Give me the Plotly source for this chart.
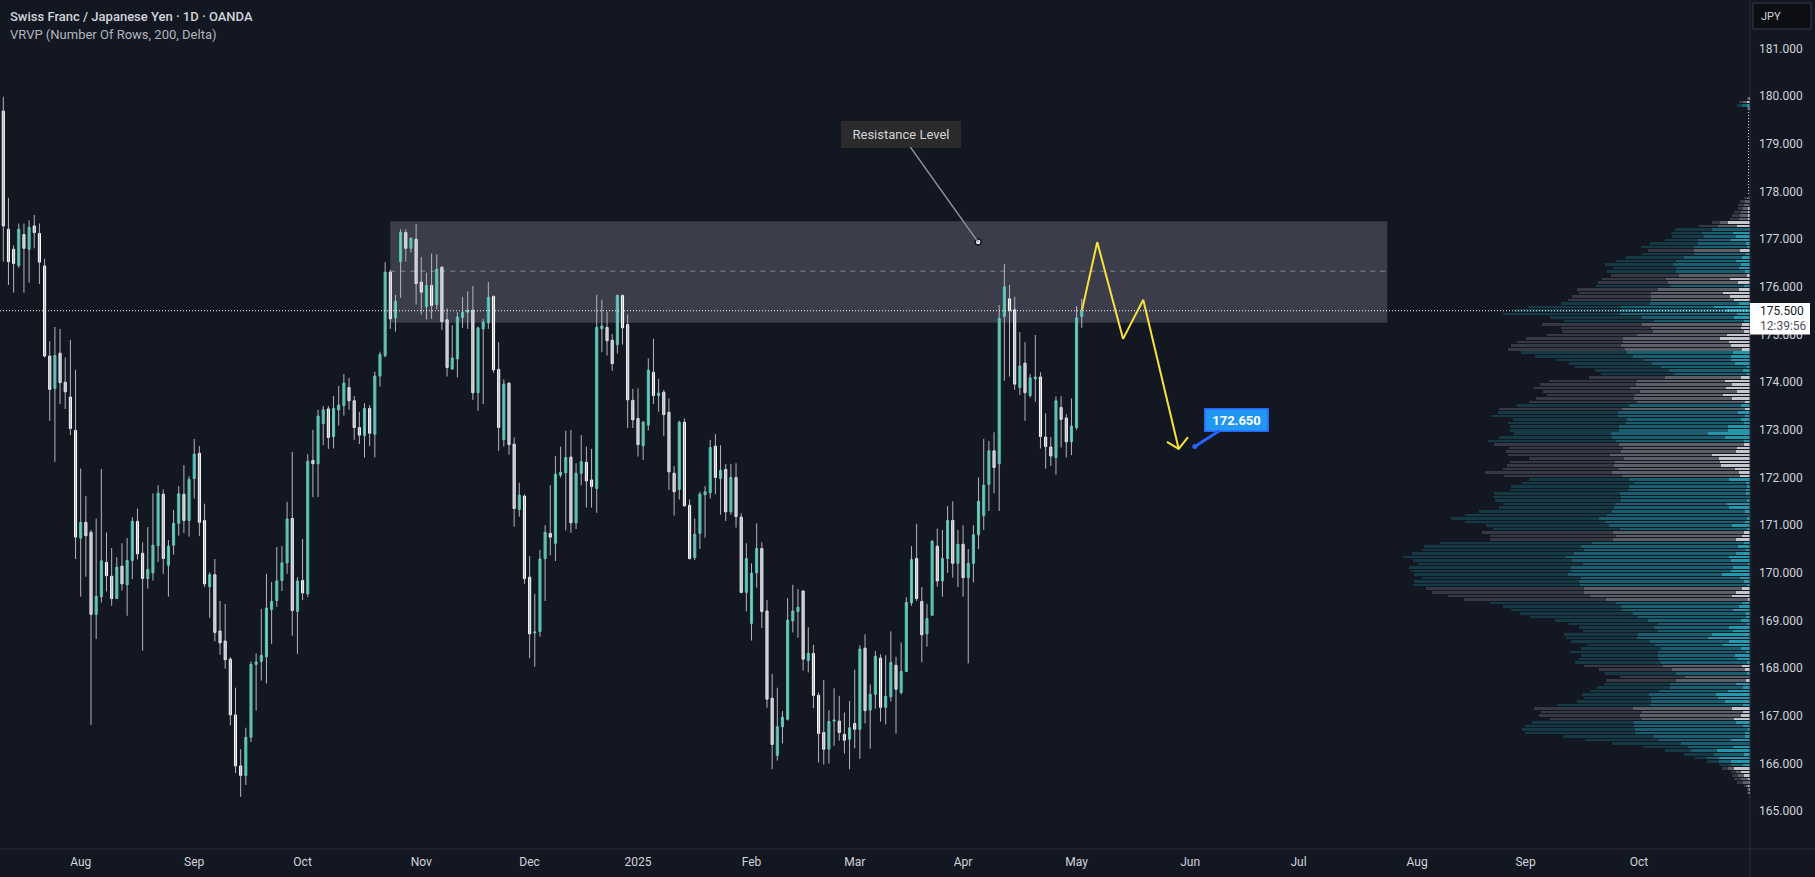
import plotly.graph_objects as go
import pandas as pd

BG = "#131722"
FONT = "Roboto"
TXT = "#d1d4dc"

# ---------------- daily candles (CHFJPY, OANDA) ----------------
opens = [179.69,177.21,176.79,176.45,177.10,176.79,177.28,177.12,176.44,174.55,
         173.87,174.61,174.00,173.69,172.99,170.73,171.06,170.85,169.13,169.50,
         170.22,169.93,169.46,170.14,169.75,170.26,171.08,170.41,169.88,170.00,
         170.57,171.65,170.16,170.58,171.04,171.65,171.10,171.98,172.51,171.10,
         169.71,169.96,168.78,168.57,168.19,167.02,165.95,165.75,166.55,168.08,
         168.14,168.24,169.23,169.42,169.84,170.21,171.14,169.19,169.84,169.56,
         172.36,172.29,173.13,173.44,172.86,173.42,173.51,173.89,173.61,173.05,
         172.88,173.45,172.91,174.13,174.56,176.31,175.35,176.53,177.14,176.81,
         177.00,176.10,175.59,176.03,175.63,176.41,175.31,174.28,174.49,175.36,
         175.47,175.51,173.78,175.12,175.25,175.80,174.27,172.80,173.98,172.70,
         171.33,171.61,169.91,168.74,168.77,170.30,170.83,170.62,172.05,172.10,
         172.43,171.05,172.09,172.32,171.95,171.77,175.12,175.15,174.88,174.79,
         175.82,175.21,173.62,173.24,172.67,173.10,174.21,173.72,173.79,173.37,
         172.09,171.75,173.16,171.42,170.32,170.83,171.64,171.68,172.66,171.98,
         172.17,171.28,172.00,171.17,169.59,168.94,170.00,170.51,169.20,167.37,
         166.17,166.77,166.93,168.99,169.19,169.62,168.16,168.31,167.43,166.65,
         166.30,166.89,166.89,166.61,166.51,166.84,166.72,168.42,167.12,167.45,
         168.21,167.18,167.40,168.06,167.49,167.93,169.37,170.30,169.40,168.72,
         169.11,170.56,169.83,170.30,171.10,170.20,170.60,169.90,170.20,170.80,
         171.20,171.86,172.56,172.29,175.38,175.75,175.52,173.89,174.40,173.72,
         174.07,174.11,172.85,172.64,172.42,173.47,173.25,172.75,173.05,175.38]
highs = [179.99,177.87,176.87,177.33,177.33,177.40,177.51,177.33,176.59,174.86,
         175.16,175.12,174.52,174.89,174.26,172.19,171.61,170.90,171.14,172.18,
         170.85,170.52,170.33,170.62,170.73,171.17,171.35,170.64,170.96,171.67,
         171.84,171.75,170.69,171.32,171.82,172.26,172.03,172.81,172.66,171.45,
         170.01,170.29,169.41,169.35,168.23,167.59,166.30,166.75,168.14,168.31,
         169.24,169.98,169.81,170.54,170.56,171.49,172.54,169.91,170.71,172.49,
         173.00,173.42,173.50,173.50,173.71,173.92,174.17,174.09,173.71,173.38,
         173.56,173.52,174.22,174.64,176.52,176.36,175.83,177.21,177.21,177.04,
         177.32,176.63,176.30,176.70,176.68,176.44,175.55,175.20,175.47,175.79,
         175.91,176.02,175.17,175.33,176.10,175.82,174.84,174.06,174.00,172.84,
         171.89,171.65,170.35,169.56,170.48,171.00,171.84,172.45,172.65,172.98,
         173.00,172.30,172.89,172.65,172.60,175.83,175.73,175.48,175.01,175.84,
         175.84,175.42,173.86,173.87,173.19,174.50,174.91,174.07,173.84,173.66,
         172.24,173.19,173.24,171.54,171.14,171.70,171.82,172.79,172.91,172.68,
         172.28,172.28,172.30,171.25,170.62,170.20,171.04,170.64,169.43,167.88,
         167.59,167.10,169.47,169.75,169.66,169.62,168.86,168.49,167.49,167.75,
         167.12,167.58,167.42,167.07,167.31,167.97,168.48,168.71,167.66,168.36,
         168.29,168.27,168.77,168.24,168.54,169.49,170.56,171.03,169.70,169.35,
         170.69,170.93,170.90,171.40,171.50,170.90,171.00,170.50,171.00,172.00,
         172.81,172.77,172.95,175.62,176.48,176.04,175.79,175.05,174.84,174.17,
         174.99,174.21,173.35,172.85,173.70,173.71,173.33,173.66,175.60,175.75]
lows = [176.53,176.04,175.88,176.40,175.88,176.09,176.81,176.06,174.52,173.19,
        172.33,173.54,173.44,172.89,170.29,169.50,169.92,166.81,168.61,169.38,
        169.61,169.31,169.45,169.63,169.10,169.87,170.28,168.37,169.67,169.84,
        170.23,169.98,169.50,170.38,170.78,170.84,170.76,171.56,170.77,169.70,
        169.06,168.56,168.28,167.99,166.80,165.80,165.30,165.55,166.45,167.11,
        167.74,167.68,168.51,169.29,169.62,169.98,168.68,168.30,169.43,169.49,
        171.59,171.59,172.68,172.60,172.61,173.09,173.30,173.42,172.79,172.70,
        172.42,172.66,172.42,173.91,174.52,175.12,175.06,175.77,176.53,176.72,
        175.63,175.42,175.32,175.33,175.53,175.10,174.12,174.26,174.10,175.14,
        175.12,173.63,173.40,173.54,175.12,174.20,172.56,172.65,172.48,170.97,
        171.18,169.77,168.21,168.03,168.66,169.41,170.37,170.25,172.00,170.89,
        170.84,170.92,171.84,171.37,171.37,171.26,174.63,174.56,174.24,174.60,
        174.79,173.04,173.04,172.44,172.37,172.99,173.54,173.38,172.87,171.74,
        171.20,171.54,171.38,170.28,170.27,170.50,170.74,171.56,171.65,171.22,
        171.09,171.22,170.95,169.57,169.19,168.58,169.69,168.84,167.17,165.88,
        166.06,166.42,166.90,168.75,168.64,167.95,167.91,167.16,166.02,165.98,
        166.00,166.37,166.48,166.21,165.88,166.32,166.10,166.84,166.31,167.15,
        166.88,166.82,167.30,166.63,167.45,167.93,169.31,169.41,168.12,168.45,
        169.10,169.71,169.50,170.00,169.90,169.70,169.50,168.10,169.80,170.50,
        170.90,171.30,171.67,171.30,174.03,174.12,173.84,173.73,173.19,173.68,
        173.59,172.61,172.19,172.24,172.06,172.63,172.42,172.47,173.00,175.14]
closes = [177.28,176.53,176.49,177.21,176.81,177.25,177.14,176.52,174.55,173.85,
          174.56,173.99,173.80,173.03,170.75,171.06,170.78,169.13,169.51,170.25,
          169.94,169.46,170.12,169.77,170.26,171.08,170.40,169.88,170.07,170.58,
          171.67,170.30,170.56,171.04,171.66,171.10,171.96,172.49,171.06,169.77,
          169.96,168.75,168.53,168.18,167.02,165.95,165.75,166.55,168.08,168.13,
          168.27,169.26,169.40,169.83,170.21,171.13,169.21,169.83,169.58,172.34,
          172.29,173.29,173.42,172.84,173.45,173.52,173.98,173.61,173.05,172.89,
          173.45,172.93,174.13,174.58,176.31,175.33,175.70,177.14,176.81,177.02,
          176.07,175.89,176.03,175.61,176.37,175.27,174.31,174.51,175.37,175.47,
          175.51,173.78,175.14,175.26,175.78,174.26,173.05,173.96,172.69,171.35,
          171.63,169.88,168.72,168.76,170.29,170.85,170.75,172.07,172.11,172.42,
          171.05,172.09,172.33,171.93,171.81,175.15,175.18,174.87,174.39,175.82,
          175.14,173.63,173.21,172.69,173.16,174.25,173.72,173.77,173.32,172.12,
          171.70,173.16,171.41,170.30,170.81,171.65,171.70,172.63,172.00,172.15,
          171.28,172.00,171.18,169.59,170.30,169.99,170.51,169.19,167.35,166.40,
          166.77,166.97,169.01,169.20,169.28,168.19,168.31,167.43,166.63,166.30,
          166.88,166.91,166.65,166.49,166.75,166.72,168.40,167.11,167.45,168.25,
          167.18,167.41,168.12,167.56,167.93,169.38,170.28,169.46,168.70,169.04,
          170.66,169.83,170.30,171.10,170.20,170.60,169.90,170.20,170.80,171.50,
          171.84,172.56,172.21,175.34,176.00,175.50,173.96,174.34,173.78,174.09,
          174.11,172.86,172.65,172.45,173.61,173.22,172.75,173.08,175.35,175.49]

holidays = ["2024-12-25", "2025-01-01"]
dates = [d for d in pd.bdate_range("2024-07-11", "2025-05-02")
         if d.strftime("%Y-%m-%d") not in holidays][:len(opens)]

price_ticks = list(range(165, 182))
month_ticks = ["2024-08-01", "2024-09-02", "2024-10-01", "2024-11-01", "2024-12-02",
               "2025-01-02", "2025-02-03", "2025-03-03", "2025-04-01", "2025-05-01",
               "2025-06-02", "2025-07-01", "2025-08-01", "2025-09-01", "2025-10-01"]
month_labels = ["Aug", "Sep", "Oct", "Nov", "Dec", "2025", "Feb", "Mar", "Apr", "May",
                "Jun", "Jul", "Aug", "Sep", "Oct"]

# ---------------- visible range volume profile (200 rows, delta) ----------------
vp_top = 177.87
vp_step = 0.0739
vp_total = [6,10,12,12,16,18,20,38,51,75, 79,78,85,100,109,102,108,124,134,145,
            137,143,139,148,152,154,173,171,178,182, 189,222,236,247,200,186,208,189,188,203,
            224,233,239,242,229,215,193,181,175,155, 149,161,201,210,216,207,203,214,221,233,
            251,252,259,237,242,240,240,236,251,262, 256,241,244,242,221,240,243,247,265,246,
            221,228,239,240,256,257,255,247,251,271, 285,299,285,264,257,268,260,260,310,326,
            328,338,347,337,332,341,339,336,328,336, 337,324,318,302,286,260,247,239,230,220,
            195,181,171,167,186,184,179,163,169,180, 169,171,175,166,151,145,130,144,146,153,
            160,168,166,173,193,216,209,211,200,218, 225,228,225,187,165,138,107,85,66,55,
            43,31,28,19,18,16,13,6,3,3]
vp_major = [3,5,6,7,9,10,11,30,32,38, 48,46,52,52,56,56,56,66,74,77,
            74,74,71,84,82,80,92,99,99,99, 100,129,130,130,108,96,108,99,97,113,
            127,127,129,125,123,117,106,98,89,81, 76,85,113,114,120,110,115,116,113,121,
            128,132,132,123,124,131,131,139,138,134, 131,127,129,140,126,135,136,131,138,128,
            121,116,121,122,130,129,129,135,136,138, 143,151,145,141,130,137,134,137,158,169,
            166,176,184,178,167,179,179,182,169,171, 170,166,166,160,144,134,129,128,117,112,
            102,92,96,92,112,113,100,95,89,92, 92,92,89,87,78,74,65,74,80,80,
            91,101,99,99,100,117,108,110,108,116, 116,115,115,96,92,69,62,59,36,43,
            31,19,22,14,12,9,7,4,2,2]
vp_side = ("GGGGGGGGGT" "TTTTTGTTTT" "TTGGGTGGGG" "TTTTTTGGGG" "GGGGTTTTTT" "TGGGGGGGGT"
           "GTTTTTTTTT" "GGGGGGGGGG" "TTTTTTTTTT" "TTTTTGGGTT" "TTTTTTTTTT" "TGGGGTTTTT"
           "TTTTTTTTTT" "TTTGGTGGTT" "TTTTTGGGGT" "TTTTTTTTTT" "TTGGGGGGGG")
vp_hi_price = [179.95, 179.88, 179.81, 179.74]
vp_hi_total = [3, 11, 13, 3]
vp_hi_major = [2, 7, 8, 2]
vp_hi_side = "GGTG"

# ---------------- drawings ----------------
zone_x = ["2024-10-24", "2025-07-24 05:00"]
zone_y = [175.25, 177.38]
zone_mid = 176.33
last_price = 175.50
forecast_x = ["2025-05-02 01:00", "2025-05-07", "2025-05-14", "2025-05-19 22:00", "2025-05-28 19:00"]
forecast_y = [175.51, 176.94, 174.91, 175.73, 172.60]
arrow_x = ["2025-05-26 12:00", "2025-05-28 19:00", "2025-05-30 14:00"]
arrow_y = [172.75, 172.60, 172.85]
target_x, target_y, target_text = "2025-06-02 22:00", 172.65, "172.650"
note_x, note_y, note_text = "2025-04-03 22:00", 176.94, "Resistance Level"

# ---------------- geometry ----------------
W, H = 1815, 877
ML, MR, MT, MB = 0, 65, 0, 28
PW, PH = W - ML - MR, H - MT - MB
Y_RANGE = [164.206, 182.020]


def py2price(py):
    return Y_RANGE[1] - py / PH * (Y_RANGE[1] - Y_RANGE[0])


fig = go.Figure()

# volume profile
rows_y = [vp_top - k * vp_step for k in range(len(vp_total))] + vp_hi_price
tot = vp_total + vp_hi_total
maj = [max(m, t / 2) for m, t in zip(vp_major + vp_hi_major, tot)]
side = vp_side + vp_hi_side
delta = [2 * m - t for m, t in zip(maj, tot)]
cols = {"T": ("#143a46", "#1a5e6f", "#2398ad"), "G": ("#363943", "#5c5f68", "#c4c6cc")}
for vals, k in ((tot, 0), (maj, 1), (delta, 2)):
    fig.add_trace(go.Bar(x=vals, y=rows_y, orientation="h", xaxis="x2", yaxis="y",
                         width=vp_step * 0.72, marker=dict(color=[cols[s][k] for s in side], line=dict(width=0)),
                         hoverinfo="skip", showlegend=False))

# wicks
wx, wy = [], []
for d, h, l in zip(dates, highs, lows):
    wx += [d, d, None]
    wy += [l, h, None]
fig.add_trace(go.Scatter(x=wx, y=wy, mode="lines", line=dict(color="#b2b5be", width=1),
                         hoverinfo="skip", showlegend=False))

# bodies
bh = [max(o, c) for o, c in zip(opens, closes)]
bl = [min(o, c) for o, c in zip(opens, closes)]
fig.add_trace(go.Candlestick(x=dates, open=opens, high=bh, low=bl, close=closes,
                             increasing=dict(line=dict(color="#3ad1b9", width=1), fillcolor="#1ea891"),
                             decreasing=dict(line=dict(color="#ffffff", width=1), fillcolor="#d6d8de"),
                             whiskerwidth=0, hoverinfo="skip", showlegend=False))

# forecast path
fig.add_trace(go.Scatter(x=forecast_x, y=forecast_y, mode="lines", line=dict(color="#f7e23b", width=2),
                         hoverinfo="skip", showlegend=False))
fig.add_trace(go.Scatter(x=arrow_x, y=arrow_y, mode="lines", line=dict(color="#f7e23b", width=2),
                         hoverinfo="skip", showlegend=False))
# anchor dots
fig.add_trace(go.Scatter(x=[note_x], y=[note_y], mode="markers",
                         marker=dict(color="#e8e8e8", size=6, line=dict(color="#131722", width=1.5)),
                         hoverinfo="skip", showlegend=False))
fig.add_trace(go.Scatter(x=[target_x], y=[target_y], mode="markers",
                         marker=dict(color="#2962ff", size=5), hoverinfo="skip", showlegend=False))

shapes = [
    dict(type="rect", xref="x", yref="y", x0=zone_x[0], x1=zone_x[1], y0=zone_y[0], y1=zone_y[1],
         fillcolor="rgba(120,123,134,0.40)", line=dict(width=0), layer="below"),
    dict(type="line", xref="x", yref="y", x0=zone_x[0], x1=zone_x[1], y0=zone_mid, y1=zone_mid,
         line=dict(color="rgba(170,173,182,0.65)", width=1, dash="5px,5px"), layer="below"),
    dict(type="line", xref="paper", yref="y", x0=0, x1=1, y0=last_price, y1=last_price,
         line=dict(color="#ffffff", width=1, dash="1px,2px"), layer="above"),
    dict(type="line", xref="x2", yref="y", x0=1.5, x1=1.5, y0=177.95, y1=179.72,
         line=dict(color="#d1d4dc", width=1, dash="1px,2px"), layer="above"),
    # axis separators
    dict(type="line", xref="paper", yref="paper", x0=0, x1=W / PW, y0=0, y1=0,
         line=dict(color="#2a2e39", width=1), layer="above"),
    dict(type="line", xref="paper", yref="paper", x0=1, x1=1, y0=-MB / PH, y1=1,
         line=dict(color="#2a2e39", width=1), layer="above"),
    # last price label
    dict(type="rect", xref="paper", yref="y", x0=1.0, x1=1810 / PW, y0=py2price(334.5), y1=py2price(303),
         fillcolor="#ffffff", line=dict(width=0), layer="above"),
    # currency button
    dict(type="rect", xref="paper", yref="paper", x0=1753 / PW, x1=1811 / PW, y0=1 - 29 / PH, y1=1 - 3 / PH,
         fillcolor="#0c0e14", line=dict(color="#363a45", width=1), layer="above"),
]

annotations = [
    dict(xref="paper", yref="paper", x=8 / PW, y=1 - 16.3 / PH, xanchor="left", yanchor="middle",
         text="Swiss Franc / Japanese Yen · 1D · OANDA", showarrow=False,
         font=dict(family=FONT, size=13, color=TXT, weight=500)),
    dict(xref="paper", yref="paper", x=8 / PW, y=1 - 34.3 / PH, xanchor="left", yanchor="middle",
         text="VRVP (Number Of Rows, 200, Delta)", showarrow=False,
         font=dict(family=FONT, size=13, color="#b2b5be")),
    dict(xref="paper", yref="y", x=1758 / PW, y=py2price(311), xanchor="left", yanchor="middle",
         text="175.500", showarrow=False, font=dict(family=FONT, size=12, color="#131722")),
    dict(xref="paper", yref="y", x=1758 / PW, y=py2price(325.5), xanchor="left", yanchor="middle",
         text="12:39:56", showarrow=False, font=dict(family=FONT, size=12, color="#50535e")),
    dict(xref="paper", yref="paper", x=1771 / PW, y=1 - 16 / PH, xanchor="center", yanchor="middle",
         text="JPY", showarrow=False, font=dict(family=FONT, size=11, color=TXT)),
    dict(xref="x", yref="y", x=note_x, y=note_y, text=note_text, showarrow=True, arrowhead=0,
         arrowcolor="#8f929b", arrowwidth=1.5, ax=-77, ay=-108, standoff=0,
         bgcolor="#2b2b2b", bordercolor="#2b2b2b", borderwidth=1, borderpad=5, width=108,
         font=dict(family=FONT, size=13, color=TXT)),
    dict(xref="x", yref="y", x=target_x, y=target_y, text="<b>" + target_text + "</b>", showarrow=True,
         arrowhead=0, arrowcolor="#2962ff", arrowwidth=3, ax=42, ay=-27, standoff=0,
         bgcolor="#2196f3", bordercolor="#2962ff", borderwidth=1.5, borderpad=3, width=56,
         font=dict(family=FONT, size=13, color="#ffffff")),
]

fig.update_layout(
    width=W, height=H,
    margin=dict(l=ML, r=MR, t=MT, b=MB, pad=0),
    paper_bgcolor=BG, plot_bgcolor=BG,
    barmode="overlay", bargap=0, boxgap=0.42,
    showlegend=False, hovermode=False,
    xaxis=dict(type="date", range=["2024-07-10 08:40", "2025-10-30 12:00"],
               rangebreaks=[dict(bounds=["sat", "mon"]), dict(values=holidays)],
               tickmode="array", tickvals=month_ticks, ticktext=month_labels,
               showgrid=False, zeroline=False, showline=False, ticks="",
               tickfont=dict(family=FONT, size=12, color=TXT), ticklabelstandoff=4,
               rangeslider=dict(visible=False), fixedrange=True),
    xaxis2=dict(overlaying="x", range=[PW, 0], visible=False, showgrid=False, zeroline=False,
                fixedrange=True),
    yaxis=dict(side="right", range=Y_RANGE, tickmode="array", tickvals=price_ticks,
               ticktext=[f"{v:.3f}" for v in price_ticks], showgrid=False, zeroline=False,
               showline=False, ticks="", tickfont=dict(family=FONT, size=12, color=TXT),
               ticklabelstandoff=8, fixedrange=True),
    shapes=shapes,
    annotations=annotations,
)

fig.write_html("out.html")
